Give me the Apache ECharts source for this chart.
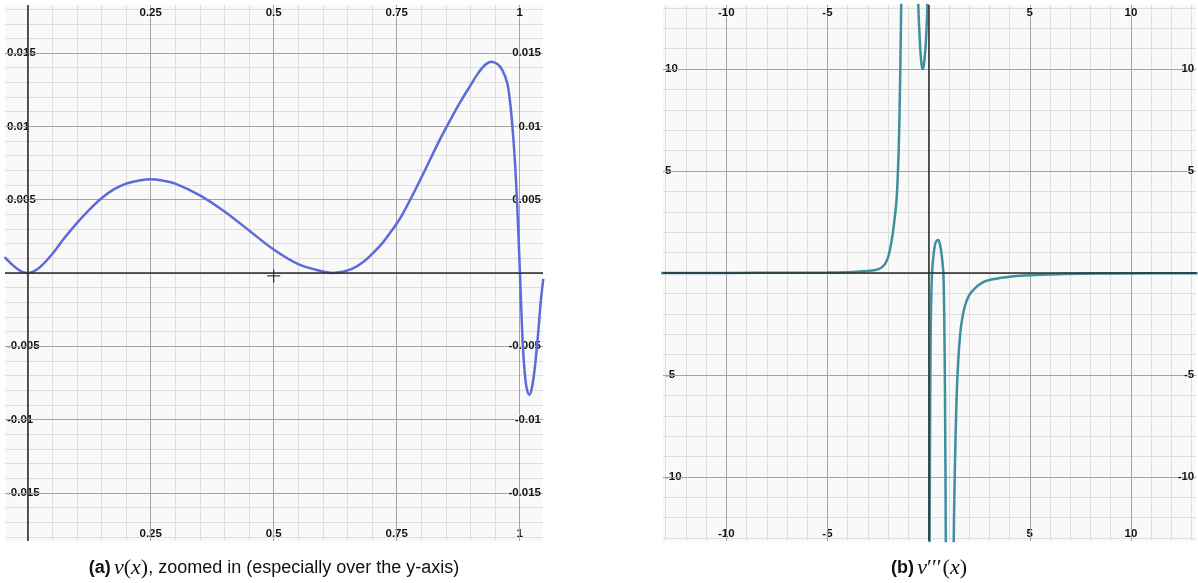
<!DOCTYPE html>
<html><head><meta charset="utf-8">
<script src="https://cdn.jsdelivr.net/npm/echarts@6/dist/echarts.min.js"></script>
<style>html,body{margin:0;padding:0;background:#fff}#c{width:1198px;height:583px}</style>
</head><body><div id="c"></div>
<script>
// ---------- Panel (a): v(x) ----------
const vX = [-0.047, -0.035, -0.02, -0.01, 0, 0.01, 0.025, 0.05, 0.075, 0.1, 0.125, 0.15, 0.175, 0.2, 0.225, 0.25,
  0.275, 0.3, 0.35, 0.4, 0.45, 0.5, 0.55, 0.6, 0.62, 0.64, 0.66, 0.68, 0.70, 0.72, 0.74, 0.76, 0.8, 0.8377, 0.86, 0.88, 0.90, 0.915, 0.93, 0.9427,
  0.9545, 0.9645, 0.9747, 0.98, 0.9834, 0.9888, 0.993, 0.997, 1.0, 1.003, 1.0065, 1.0105, 1.0145, 1.0195, 1.0245, 1.031, 1.0373, 1.0427, 1.048];
const vY = [0.00108, 0.00068, 0.00025, 0.00006, 0, 0.00007, 0.0004, 0.0013, 0.0024, 0.0034, 0.0043, 0.0051, 0.0057, 0.0061, 0.0063, 0.0064,
  0.0063, 0.0061, 0.0053, 0.0042, 0.0029, 0.0016, 0.0006, 0.0001, 0, 0.00008, 0.0003, 0.0007, 0.0013, 0.0020, 0.0029, 0.0039, 0.0065, 0.0091, 0.0105, 0.0117, 0.0128, 0.0136, 0.0142, 0.01441,
  0.01425, 0.01386, 0.01296, 0.0118, 0.0107, 0.0084, 0.0060, 0.0030, 0.0005, -0.0022, -0.0050, -0.0069, -0.0079, -0.0083, -0.0079, -0.0064, -0.0042, -0.0020, -0.0004];
const aXLabels = [0.25, 0.5, 0.75, 1];
const aYLabels = [-0.015, -0.01, -0.005, 0.005, 0.01, 0.015];
const aCursor = [[0.5, -0.0002]];

// ---------- Panel (b): v'''(x) ----------
const dX = [-13.3, -10, -7, -5, -4, -3.4, -3, -2.7, -2.45, -2.29, -2.15, -2.0, -1.9, -1.8, -1.7, -1.6, -1.55, -1.5, -1.46, -1.42, -1.38, -1.35, -1.3, -1.0,
  -0.58, -0.51, -0.45, -0.4, -0.35, -0.3, -0.25, -0.2, -0.15, -0.1, -0.06, -0.03, 0,
  0.03, 0.05, 0.08, 0.11, 0.14, 0.17, 0.21, 0.25, 0.3, 0.35, 0.42, 0.48, 0.55, 0.6, 0.65, 0.69, 0.73, 0.77, 0.81, 0.85, 0.9, 1.15,
  1.24, 1.3, 1.38, 1.47, 1.56, 1.65, 1.8, 2.0, 2.3, 2.7, 3.1, 3.5, 4.2, 5, 6, 7.5, 9.5, 13.3];
const dY = [0, 0.005, 0.01, 0.02, 0.04, 0.07, 0.1, 0.13, 0.2, 0.3, 0.45, 0.78, 1.2, 1.75, 2.5, 3.4, 4.2, 5.4, 6.8, 8.8, 11.3, 13.5, 18, null,
  20, 13.2, 11.7, 10.8, 10.25, 10.0, 10.1, 10.5, 11.1, 12.0, 13.2, 20, null,
  -20, -13.2, -6, -2.3, -0.8, 0, 0.55, 0.95, 1.3, 1.5, 1.6, 1.62, 1.45, 1.2, 0.85, 0.45, 0, -2, -6, -13.2, -25, -25,
  -13.2, -9.5, -6.2, -4.2, -3.0, -2.3, -1.6, -1.1, -0.74, -0.45, -0.32, -0.25, -0.16, -0.11, -0.07, -0.04, -0.02, -0.01];
const bXLabels = [-10, -5, 5, 10];
const bYLabels = [-10, -5, 5, 10];

// ranges
const aXR = [-0.0461, 1.0474], aYR = [-0.01828, 0.01828];
const bXR = [-13.13, 13.23], bYR = [-13.14, 13.14];

function steps(lo, hi, step, dec) {
  const out = [];
  const s = Math.ceil(lo / step - 1e-9), e = Math.floor(hi / step + 1e-9);
  for (let i = s; i <= e; i++) out.push(+(i * step).toFixed(dec));
  return out;
}

const MINOR = '#dedede', MAJOR = '#a4a4a4', AXIS = '#2b2b2b';
const labelStyle = {
  color: '#111', fontSize: 11.5, fontWeight: 'bold', fontFamily: 'Liberation Sans, Arial, sans-serif',
  textBorderColor: 'rgba(255,255,255,0.6)', textBorderWidth: 1.5, formatter: v => String(v)
};

function xAxisPair(gi, range, minorVals, majorVals, labels) {
  return [
    { type: 'value', gridIndex: gi, position: 'bottom', min: range[0], max: range[1], z: 0,
      axisLine: { show: false }, axisTick: { show: false, customValues: minorVals },
      splitLine: { show: true, lineStyle: { color: MINOR, width: 1 } },
      axisLabel: Object.assign({ inside: true, margin: 1, customValues: labels }, labelStyle) },
    { type: 'value', gridIndex: gi, position: 'top', min: range[0], max: range[1], z: 1,
      axisLine: { show: false }, axisTick: { show: false, customValues: majorVals },
      splitLine: { show: true, lineStyle: { color: MAJOR, width: 1 } },
      axisLabel: Object.assign({ inside: true, margin: 2, customValues: labels }, labelStyle) }
  ];
}
function yAxisPair(gi, range, minorVals, majorVals, labels) {
  return [
    { type: 'value', gridIndex: gi, position: 'left', min: range[0], max: range[1], z: 0,
      axisLine: { show: false }, axisTick: { show: false, customValues: minorVals },
      splitLine: { show: true, lineStyle: { color: MINOR, width: 1 } },
      axisLabel: Object.assign({ inside: true, margin: 2, customValues: labels }, labelStyle) },
    { type: 'value', gridIndex: gi, position: 'right', min: range[0], max: range[1], z: 1,
      axisLine: { show: false }, axisTick: { show: false, customValues: majorVals },
      splitLine: { show: true, lineStyle: { color: MAJOR, width: 1 } },
      axisLabel: Object.assign({ inside: true, margin: 2, customValues: labels }, labelStyle) }
  ];
}

const zeroLines = {
  silent: true, symbol: 'none', animation: false, label: { show: false },
  lineStyle: { color: AXIS, width: 1.5, type: 'solid' },
  data: [{ xAxis: 0 }, { yAxis: 0 }]
};

const chart = echarts.init(document.getElementById('c'), null, { renderer: 'canvas' });
chart.setOption({
  animation: false,
  backgroundColor: '#ffffff',
  grid: [
    { left: 5, top: 5, width: 538, height: 536, show: true, backgroundColor: '#f9f9f9', borderWidth: 0 },
    { left: 663, top: 5, width: 535, height: 536, show: true, backgroundColor: '#f9f9f9', borderWidth: 0 }
  ],
  xAxis: [].concat(
    xAxisPair(0, aXR, steps(aXR[0], aXR[1], 0.05, 2), steps(aXR[0], aXR[1], 0.25, 2), aXLabels),
    xAxisPair(1, bXR, steps(bXR[0], bXR[1], 1, 0), steps(bXR[0], bXR[1], 5, 0), bXLabels)
  ),
  yAxis: [].concat(
    yAxisPair(0, aYR, steps(aYR[0], aYR[1], 0.001, 3), steps(aYR[0], aYR[1], 0.005, 3), aYLabels),
    yAxisPair(1, bYR, steps(bYR[0], bYR[1], 1, 0), steps(bYR[0], bYR[1], 5, 0), bYLabels)
  ),
  series: [
    { type: 'line', xAxisIndex: 0, yAxisIndex: 0, z: 3, data: vX.map((x, i) => [x, vY[i]]),
      smooth: 0.35, showSymbol: false, clip: true,
      lineStyle: { color: '#5b6bd9', width: 2.5 }, markLine: zeroLines },
    { type: 'scatter', xAxisIndex: 0, yAxisIndex: 0, z: 4, data: aCursor, symbolSize: 13,
      symbol: 'path://M6,0 L7.3,0 L7.3,6 L13.3,6 L13.3,7.3 L7.3,7.3 L7.3,13.3 L6,13.3 L6,7.3 L0,7.3 L0,6 L6,6 Z',
      itemStyle: { color: '#111' }, silent: true },
    { type: 'line', xAxisIndex: 2, yAxisIndex: 2, z: 3, data: dX.map((x, i) => [x, dY[i] == null ? '-' : dY[i]]),
      smooth: 0.3, showSymbol: false, connectNulls: false, clip: true,
      lineStyle: { color: '#3f8f9f', width: 2.5 }, markLine: zeroLines }
  ],
  graphic: [
    { type: 'text', x: 274, y: 568, style: {
        text: '{b|(a)} {m|v}{r|(}{m|x}{r|)}{n|, zoomed in (especially over the y-axis)}',
        align: 'center', verticalAlign: 'middle',
        rich: {
          b: { fontFamily: 'Liberation Sans', fontWeight: 'bold', fontSize: 18, fill: '#111' },
          n: { fontFamily: 'Liberation Sans', fontSize: 18, fill: '#111' },
          m: { fontFamily: 'Liberation Serif', fontStyle: 'italic', fontSize: 22, fill: '#111' },
          r: { fontFamily: 'Liberation Serif', fontSize: 22, fill: '#111' }
        } } },
    { type: 'text', x: 929, y: 568, style: {
        text: "{b|(b)} {m|v}{p|′′′}{r|(}{m|x}{r|)}",
        align: 'center', verticalAlign: 'middle',
        rich: {
          b: { fontFamily: 'Liberation Sans', fontWeight: 'bold', fontSize: 18, fill: '#111' },
          m: { fontFamily: 'Liberation Serif', fontStyle: 'italic', fontSize: 22, fill: '#111' },
          p: { fontFamily: 'Liberation Serif', fontSize: 22, fill: '#111', padding: [0, 1, 0, 0] },
          r: { fontFamily: 'Liberation Serif', fontSize: 22, fill: '#111' }
        } } }
  ]
});
</script></body></html>
